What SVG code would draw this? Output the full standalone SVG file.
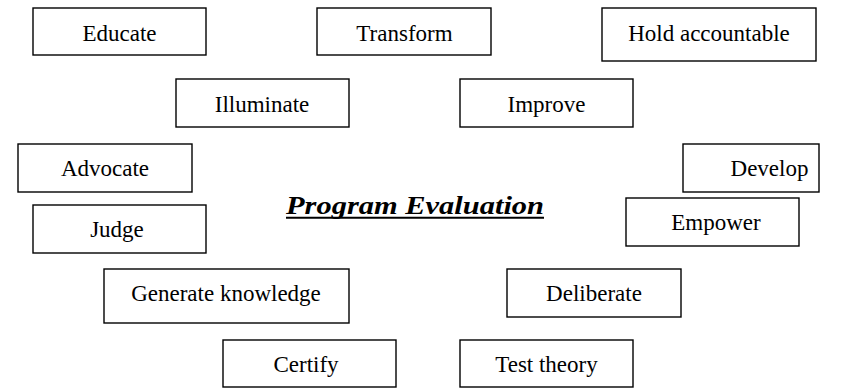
<svg xmlns="http://www.w3.org/2000/svg" width="859" height="388" viewBox="0 0 859 388">
<style>
.box{fill:#fff;stroke:#000;stroke-width:1.4}
.lbl{font-family:"Liberation Serif","Times New Roman",serif;font-size:23px;fill:#000;text-anchor:middle}
.title{font-family:"Liberation Serif","Times New Roman",serif;font-size:25px;font-weight:bold;font-style:italic;fill:#000}
</style>
<rect width="859" height="388" fill="#fff"/>
<g id="connectors"></g>
<g id="educate"><rect class="box" x="33" y="8" width="173" height="47"/><text class="lbl" x="119.5" y="40.5">Educate</text></g>
<g id="transform"><rect class="box" x="317" y="8" width="174" height="47"/><text class="lbl" x="404.5" y="40.5">Transform</text></g>
<g id="hold-accountable"><rect class="box" x="602" y="8" width="214" height="53"/><text class="lbl" x="709" y="40.5">Hold accountable</text></g>
<g id="illuminate"><rect class="box" x="176" y="79" width="173" height="48"/><text class="lbl" x="262" y="111.5">Illuminate</text></g>
<g id="improve"><rect class="box" x="460" y="79" width="173" height="48"/><text class="lbl" x="546.5" y="111.5">Improve</text></g>
<g id="advocate"><rect class="box" x="18" y="144" width="174" height="48"/><text class="lbl" x="105" y="176">Advocate</text></g>
<g id="develop"><rect class="box" x="683" y="144" width="136" height="48"/><text class="lbl" x="769.5" y="176">Develop</text></g>
<g id="judge"><rect class="box" x="33" y="205" width="173" height="48"/><text class="lbl" x="117" y="237">Judge</text></g>
<g id="empower"><rect class="box" x="626" y="198" width="173" height="48"/><text class="lbl" x="716" y="230">Empower</text></g>
<g id="program-evaluation"><text class="title" x="286" y="214" textLength="258" lengthAdjust="spacingAndGlyphs">Program Evaluation</text><line x1="286" y1="217.8" x2="544" y2="217.8" stroke="#000" stroke-width="2"/></g>
<g id="generate-knowledge"><rect class="box" x="104" y="269" width="245" height="54"/><text class="lbl" x="226" y="301">Generate knowledge</text></g>
<g id="deliberate"><rect class="box" x="507" y="269" width="174" height="48"/><text class="lbl" x="594" y="301">Deliberate</text></g>
<g id="certify"><rect class="box" x="223" y="340" width="173" height="47"/><text class="lbl" x="306" y="372">Certify</text></g>
<g id="test-theory"><rect class="box" x="460" y="340" width="173" height="47"/><text class="lbl" x="546.5" y="372">Test theory</text></g>
</svg>
